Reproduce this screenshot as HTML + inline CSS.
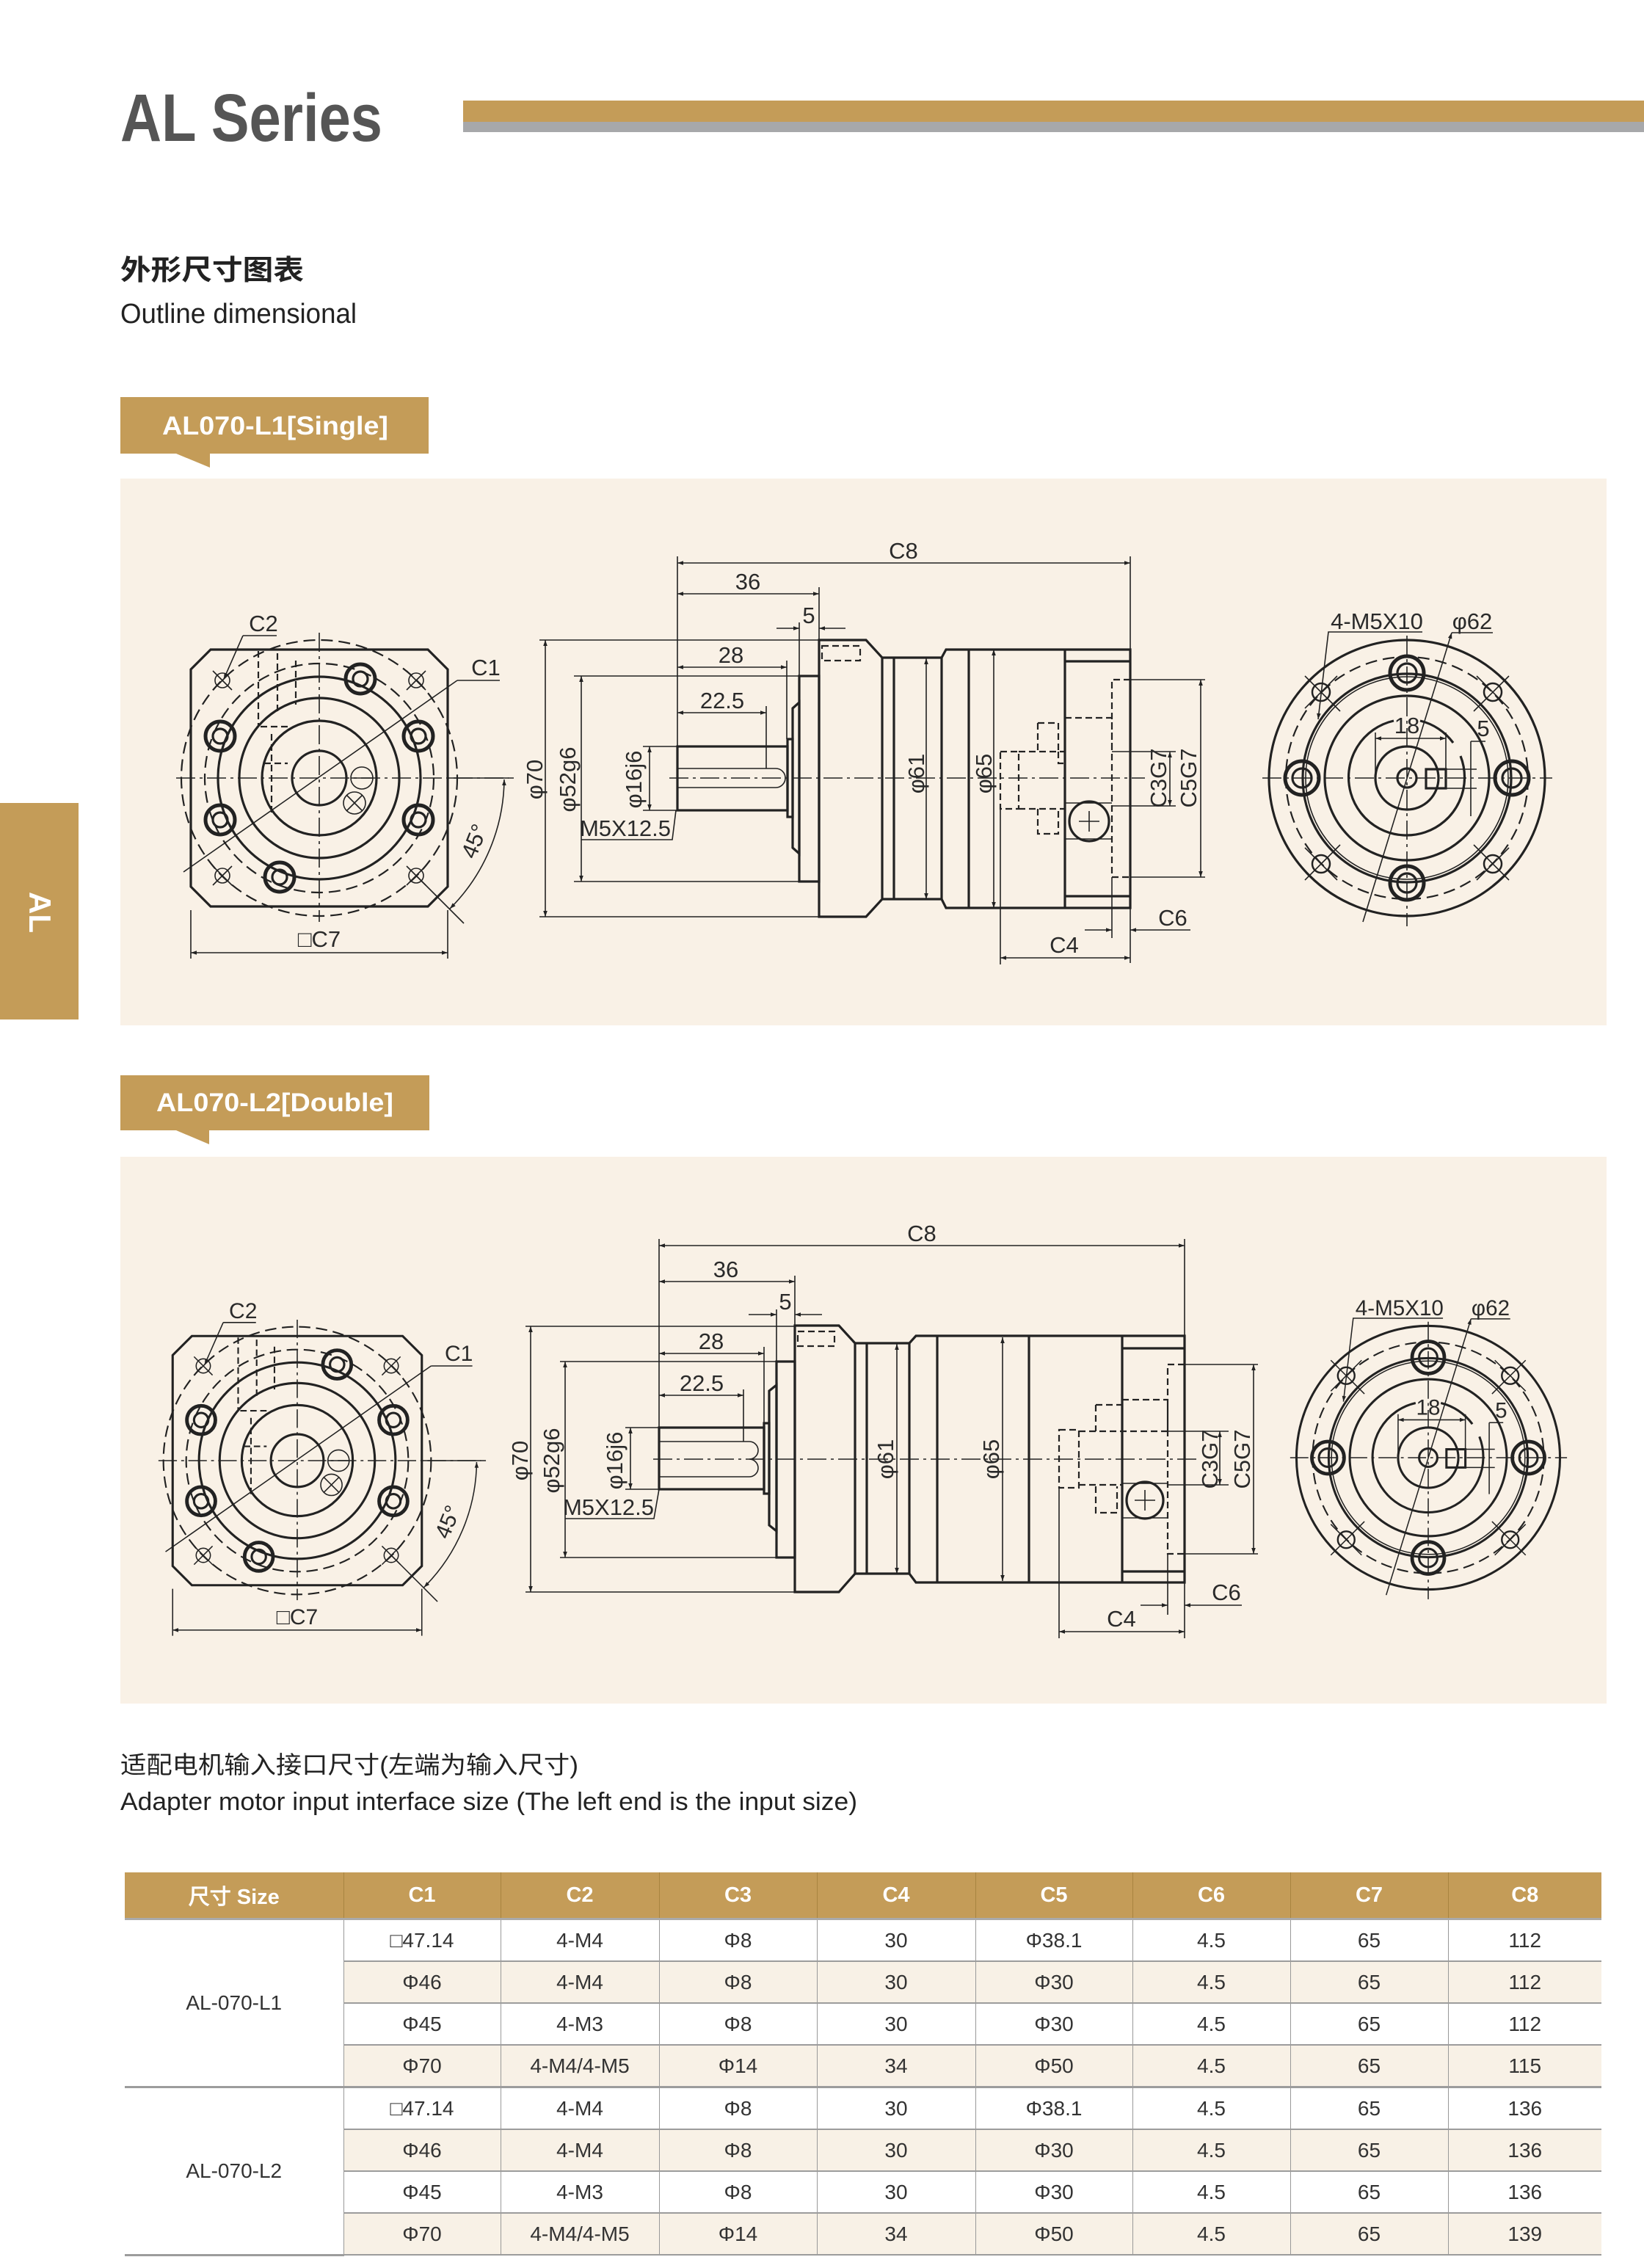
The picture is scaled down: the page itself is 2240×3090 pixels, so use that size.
<!DOCTYPE html>
<html><head><meta charset="utf-8">
<style>
html,body{margin:0;padding:0;background:#fff;}
body{width:2240px;height:3090px;position:relative;overflow:hidden;}
svg{position:absolute;left:0;top:0;}
.d{font-family:"Liberation Sans Narrow","Liberation Sans",sans-serif;font-size:31px;fill:#2a2a2a;text-anchor:middle;}
.o{fill:none;stroke:#222;stroke-width:3.2;}
.b{fill:none;stroke:#222;stroke-width:5;}
.t{fill:none;stroke:#222;stroke-width:1.6;}
.h{fill:none;stroke:#222;stroke-width:2.2;stroke-dasharray:9 5;}
.c{fill:none;stroke:#222;stroke-width:1.6;stroke-dasharray:26 6 4 6;}
.k{fill:none;stroke:#222;stroke-width:2.2;stroke-dasharray:16 8;}
table{position:absolute;left:170px;top:2551px;border-collapse:collapse;font-family:"Liberation Sans",sans-serif;font-size:28px;color:#333;table-layout:fixed;}
td,th{text-align:center;padding:0;}
th{background:#C49C58;color:#fff;font-weight:bold;font-size:29px;height:62px;border-left:1px solid #a88440;border-bottom:3px solid #aaa;}
td{height:55px;border-left:1px solid #999;border-bottom:2px solid #9c9c9c;}
tr.a td.v{background:#F8F1E6;}
td.g{border-left:none;background:#fff;border-bottom:3px solid #9c9c9c;}
</style></head>
<body>
<svg width="2240" height="3090" viewBox="0 0 2240 3090" xmlns="http://www.w3.org/2000/svg">
<defs>
<marker id="ar" viewBox="0 0 10 10" refX="10" refY="5" markerWidth="16" markerHeight="8" markerUnits="userSpaceOnUse" orient="auto-start-reverse"><path d="M0,1.5 L10,5 L0,8.5 z" fill="#222"/></marker>
</defs>

<text x="164" y="192" font-family="Liberation Sans,sans-serif" font-weight="bold" font-size="92" fill="#555" textLength="357" lengthAdjust="spacingAndGlyphs">AL Series</text>
<rect x="631" y="137" width="1609" height="29" fill="#C49C58"/>
<rect x="631" y="166" width="1609" height="14" fill="#A7A8AA"/>
<text x="164" y="381" font-family="Liberation Sans,'Noto Sans CJK SC',sans-serif" font-weight="bold" font-size="38" fill="#222" textLength="250" lengthAdjust="spacingAndGlyphs">外形尺寸图表</text>
<text x="164" y="440" font-family="Liberation Sans,sans-serif" font-size="38" fill="#222" textLength="322" lengthAdjust="spacingAndGlyphs">Outline dimensional</text>

<rect x="0" y="1094" width="107" height="295" fill="#C49C58"/>
<text transform="translate(40,1243) rotate(90)" font-family="Liberation Sans,sans-serif" font-weight="bold" font-size="42" fill="#fff" text-anchor="middle">AL</text>

<rect x="164" y="541" width="420" height="77" fill="#C49C58"/>
<path d="M240,618 L286,618 L286,637 Z" fill="#C49C58"/>
<text x="221" y="592" font-family="Liberation Sans,sans-serif" font-weight="bold" font-size="35" fill="#fff" textLength="308" lengthAdjust="spacingAndGlyphs">AL070-L1[Single]</text>
<rect x="164" y="652" width="2025" height="745" fill="#F9F1E6"/>

<rect x="164" y="1465" width="421" height="75" fill="#C49C58"/>
<path d="M240,1540 L285,1540 L285,1559 Z" fill="#C49C58"/>
<text x="213" y="1514" font-family="Liberation Sans,sans-serif" font-weight="bold" font-size="35" fill="#fff" textLength="323" lengthAdjust="spacingAndGlyphs">AL070-L2[Double]</text>
<rect x="164" y="1576" width="2025" height="745" fill="#F9F1E6"/>

<g id="lv">
<path class="o" d="M287,885 L583,885 L610,912 L610,1208 L583,1235 L287,1235 L260,1208 L260,912 Z"/>
<circle class="k" cx="435" cy="1060" r="188"/>
<circle class="k" cx="435" cy="1060" r="156"/>
<circle class="o" cx="435" cy="1060" r="138"/>
<circle class="o" cx="435" cy="1060" r="109"/>
<circle class="o" cx="435" cy="1060" r="78"/>
<circle class="o" cx="435" cy="1060" r="37"/>
<path class="h" d="M352,887 V990 M378,890 V970 M403,900 V960 M355,990 H395 M370,1000 V1110 M360,1040 H392"/>
<line class="c" x1="240" y1="1060" x2="693" y2="1060"/>
<line class="c" x1="435" y1="862" x2="435" y2="1256"/>
<line class="t" x1="250" y1="1188" x2="623" y2="927"/>
<g>
<circle class="b" cx="491" cy="925" r="20"/><circle class="o" cx="491" cy="925" r="10"/>
<circle class="b" cx="300" cy="1003" r="20"/><circle class="o" cx="300" cy="1003" r="10"/>
<circle class="b" cx="570" cy="1003" r="20"/><circle class="o" cx="570" cy="1003" r="10"/>
<circle class="b" cx="300" cy="1117" r="20"/><circle class="o" cx="300" cy="1117" r="10"/>
<circle class="b" cx="570" cy="1117" r="20"/><circle class="o" cx="570" cy="1117" r="10"/>
<circle class="b" cx="381" cy="1195" r="20"/><circle class="o" cx="381" cy="1195" r="10"/>
</g>
<g class="t">
<circle cx="303" cy="927" r="10"/><path d="M290,914 L316,940 M316,914 L290,940"/>
<circle cx="567" cy="927" r="10"/><path d="M554,914 L580,940 M580,914 L554,940"/>
<circle cx="303" cy="1193" r="10"/><path d="M290,1180 L316,1206 M316,1180 L290,1206"/>
<circle cx="567" cy="1193" r="10"/><path d="M554,1180 L580,1206 M580,1180 L554,1206"/>
<circle cx="493" cy="1060" r="15"/><line x1="478" y1="1060" x2="508" y2="1060"/>
<circle cx="483" cy="1094" r="15"/><path d="M472,1083 L494,1105 M494,1083 L472,1105"/>
</g>
<path class="t" d="M331,866 H377 M331,866 L305,925" marker-end="url(#ar)"/>
<text class="d" x="359" y="860">C2</text>
<path class="t" d="M623,927 H681"/>
<text class="d" x="662" y="920">C1</text>
<path class="t" d="M260,1240 V1306 M610,1240 V1306"/>
<line class="t" x1="260" y1="1298" x2="610" y2="1298" marker-start="url(#ar)" marker-end="url(#ar)"/>
<text class="d" x="435" y="1290">□C7</text>
<path class="t" d="M687,1062 A252,252 0 0 1 613,1238" marker-start="url(#ar)" marker-end="url(#ar)"/>
<line class="t" x1="567" y1="1193" x2="632" y2="1258"/>
<line class="t" x1="610" y1="1060" x2="700" y2="1060"/>
<text class="d" transform="translate(656,1150) rotate(-68)">45°</text>
</g>

<g id="ev">
<circle class="o" cx="1917" cy="1060" r="188"/>
<circle class="k" cx="1917" cy="1060" r="165"/>
<circle class="o" cx="1917" cy="1060" r="142"/>
<circle class="t" cx="1917" cy="1060" r="138"/>
<circle class="o" cx="1917" cy="1060" r="112"/>
<path class="o" d="M1899,982 A79,79 0 1 0 1990,1030 M1935,982 A79,79 0 0 1 1980,1012"/>
<circle class="o" cx="1917" cy="1060" r="43"/>
<circle class="o" cx="1917" cy="1060" r="13"/>
<line class="c" x1="1720" y1="1060" x2="2115" y2="1060"/>
<line class="c" x1="1917" y1="866" x2="1917" y2="1262"/>
<rect class="o" x="1943" y="1048" width="27" height="26"/>
<g>
<circle class="b" cx="1917" cy="917" r="23"/><circle class="o" cx="1917" cy="917" r="13"/>
<circle class="b" cx="1917" cy="1203" r="23"/><circle class="o" cx="1917" cy="1203" r="13"/>
<circle class="b" cx="1774" cy="1060" r="23"/><circle class="o" cx="1774" cy="1060" r="13"/>
<circle class="b" cx="2060" cy="1060" r="23"/><circle class="o" cx="2060" cy="1060" r="13"/>
</g>
<g class="t">
<circle cx="1800" cy="943" r="12" stroke-width="2.5"/><path d="M1778,921 L1826,969 M1822,921 L1778,965"/>
<circle cx="2034" cy="943" r="12" stroke-width="2.5"/><path d="M2012,921 L2056,965 M2056,921 L2008,969"/>
<circle cx="1800" cy="1177" r="12" stroke-width="2.5"/><path d="M1778,1155 L1822,1199 M1826,1151 L1778,1199"/>
<circle cx="2034" cy="1177" r="12" stroke-width="2.5"/><path d="M2008,1151 L2056,1199 M2056,1155 L2012,1199"/>
</g>
<line class="t" x1="1978" y1="862" x2="1857" y2="1256" marker-start="url(#ar)"/>
<path class="t" d="M1978,862 H2034"/>
<text class="d" x="2006" y="857">φ62</text>
<path class="t" d="M1938,861 H1810 L1796,980" marker-end="url(#ar)"/>
<text class="d" x="1876" y="857">4-M5X10</text>
<path class="t" d="M1874,998 V1062 M1970,998 V1048"/>
<line class="t" x1="1874" y1="1006" x2="1970" y2="1006" marker-start="url(#ar)" marker-end="url(#ar)"/>
<text class="d" x="1917" y="999">18</text>
<path class="t" d="M1970,1048 H2012 M1970,1074 H2012 M2004,1010 V1112 M2004,1010 H2024"/>
<text class="d" x="2021" y="1003">5</text>
</g>

<g>
<rect class="o" x="923" y="1017" width="150" height="87"/>
<path class="t" d="M923,1047 H1057 A13,13 0 0 1 1057,1073 H923"/>
<rect class="o" x="1073" y="1007" width="7" height="106"/>
<path class="o" d="M1080,965 L1089,957 V1163 L1080,1155 Z"/>
<rect class="o" x="1089" y="921" width="27" height="280"/>
<path class="o" d="M1116,872 H1180 L1202,896 V1225 L1180,1249 H1116 Z"/>
<rect class="h" x="1120" y="880" width="52" height="20"/>
<path class="o" d="M1202,896 H1283 L1289,885 H1540 V1237 H1289 L1283,1225 H1202"/>
<path class="o" d="M1218,896 V1225 M1283,896 V1225 M1320,885 V1237 M1451,885 V1237 M1451,901 H1540 M1451,1221 H1540"/>
<path class="h" d="M1540,926 H1515 V1195 H1540 M1451,978 H1515 V1024 M1414,985 H1442 V1024 M1414,985 V1024 M1363,1024 H1388 V1102 H1363 Z M1388,1024 H1451 M1388,1102 H1451 M1414,1102 V1136 H1442 V1102 M1442,1024 V1040 H1451"/>
<circle class="o" cx="1484" cy="1119" r="27"/>
<path class="t" d="M1470,1119 H1498 M1484,1105 V1133 M1451,1094 H1515 M1451,1143 H1515"/>
<line class="c" x1="912" y1="1060" x2="1560" y2="1060"/>
<path class="t" d="M923,758 V1017 M1540,758 V885 M1116,800 V872 M1089,848 V921 M1072,900 V1007 M1044,962 V1047"/>
<line class="t" x1="923" y1="767" x2="1540" y2="767" marker-start="url(#ar)" marker-end="url(#ar)"/>
<text class="d" x="1231" y="761">C8</text>
<line class="t" x1="923" y1="809" x2="1116" y2="809" marker-start="url(#ar)" marker-end="url(#ar)"/>
<text class="d" x="1019" y="803">36</text>
<line class="t" x1="1058" y1="856" x2="1089" y2="856" marker-end="url(#ar)"/>
<line class="t" x1="1152" y1="856" x2="1116" y2="856" marker-end="url(#ar)"/>
<text class="d" x="1102" y="849">5</text>
<line class="t" x1="923" y1="909" x2="1072" y2="909" marker-start="url(#ar)" marker-end="url(#ar)"/>
<text class="d" x="996" y="903">28</text>
<line class="t" x1="923" y1="971" x2="1044" y2="971" marker-start="url(#ar)" marker-end="url(#ar)"/>
<text class="d" x="984" y="965">22.5</text>
<path class="t" d="M735,872 H1116 M735,1249 H1116 M782,921 H1089 M782,1201 H1089 M876,1017 H923 M876,1104 H923"/>
<line class="t" x1="743" y1="872" x2="743" y2="1249" marker-start="url(#ar)" marker-end="url(#ar)"/>
<line class="t" x1="792" y1="921" x2="792" y2="1201" marker-start="url(#ar)" marker-end="url(#ar)"/>
<line class="t" x1="885" y1="1017" x2="885" y2="1104" marker-start="url(#ar)" marker-end="url(#ar)"/>
<text class="d" transform="translate(739,1062) rotate(-90)">φ70</text>
<text class="d" transform="translate(784,1062) rotate(-90)">φ52g6</text>
<text class="d" transform="translate(874,1062) rotate(-90)">φ16j6</text>
<path class="t" d="M792,1144 H916 L921,1104"/>
<text class="d" x="852" y="1139">M5X12.5</text>
<line class="t" x1="1262" y1="897" x2="1262" y2="1225" marker-start="url(#ar)" marker-end="url(#ar)"/>
<text class="d" transform="translate(1259,1054) rotate(-90)">φ61</text>
<line class="t" x1="1354" y1="885" x2="1354" y2="1237" marker-start="url(#ar)" marker-end="url(#ar)"/>
<text class="d" transform="translate(1351,1054) rotate(-90)">φ65</text>
<path class="t" d="M1515,1024 H1602 M1515,1098 H1602 M1540,926 H1642 M1540,1195 H1642"/>
<line class="t" x1="1594" y1="1024" x2="1594" y2="1098" marker-start="url(#ar)" marker-end="url(#ar)"/>
<line class="t" x1="1636" y1="926" x2="1636" y2="1195" marker-start="url(#ar)" marker-end="url(#ar)"/>
<text class="d" transform="translate(1589,1060) rotate(-90)">C3G7</text>
<text class="d" transform="translate(1630,1060) rotate(-90)">C5G7</text>
<path class="t" d="M1515,1195 V1278 M1540,1237 V1312 M1363,1102 V1314"/>
<line class="t" x1="1478" y1="1267" x2="1515" y2="1267" marker-end="url(#ar)"/>
<line class="t" x1="1622" y1="1267" x2="1540" y2="1267" marker-end="url(#ar)"/>
<text class="d" x="1598" y="1261">C6</text>
<line class="t" x1="1363" y1="1305" x2="1540" y2="1305" marker-start="url(#ar)" marker-end="url(#ar)"/>
<text class="d" x="1450" y="1298">C4</text>
</g>

<use href="#lv" transform="translate(405,1990) scale(0.97) translate(-435,-1060)"/>
<use href="#ev" transform="translate(1946,1986) scale(0.955) translate(-1917,-1060)"/>

<g>
<rect class="o" x="898" y="1945" width="143" height="84"/>
<path class="t" d="M898,1964 H1021 A12,12 0 0 1 1021,1988 A12,12 0 0 1 1021,2012 H898"/>
<rect class="o" x="1041" y="1939" width="7" height="96"/>
<path class="o" d="M1048,1895 L1058,1887 V2086 L1048,2078 Z"/>
<rect class="o" x="1058" y="1855" width="25" height="267"/>
<path class="o" d="M1083,1806 H1143 L1165,1830 V2144 L1143,2169 H1083 Z"/>
<rect class="h" x="1087" y="1814" width="50" height="20"/>
<path class="o" d="M1165,1830 H1239 L1248,1820 H1614 V2156 H1248 L1239,2144 H1165"/>
<path class="o" d="M1181,1830 V2144 M1239,1830 V2144 M1277,1820 V2156 M1402,1820 V2156 M1529,1820 V2156 M1529,1837 H1614 M1529,2141 H1614"/>
<path class="h" d="M1614,1859 H1591 V2117 H1614 M1529,1907 H1591 V1950 M1493,1914 H1529 V1950 M1493,1914 V1950 M1443,1948 H1470 V2027 H1443 Z M1470,1950 H1591 M1470,2023 H1529 M1493,2025 V2061 H1522 V2025"/>
<circle class="o" cx="1560" cy="2044" r="25"/>
<path class="t" d="M1546,2044 H1574 M1560,2030 V2058 M1529,2021 H1591 M1529,2068 H1591"/>
<line class="c" x1="890" y1="1988" x2="1630" y2="1988"/>
<path class="t" d="M898,1688 V1945 M1614,1688 V1820 M1083,1738 V1806 M1058,1784 V1855 M1041,1835 V1939 M1013,1893 V1964"/>
<line class="t" x1="898" y1="1697" x2="1614" y2="1697" marker-start="url(#ar)" marker-end="url(#ar)"/>
<text class="d" x="1256" y="1691">C8</text>
<line class="t" x1="898" y1="1746" x2="1083" y2="1746" marker-start="url(#ar)" marker-end="url(#ar)"/>
<text class="d" x="989" y="1740">36</text>
<line class="t" x1="1020" y1="1791" x2="1058" y2="1791" marker-end="url(#ar)"/>
<line class="t" x1="1120" y1="1791" x2="1083" y2="1791" marker-end="url(#ar)"/>
<text class="d" x="1070" y="1784">5</text>
<line class="t" x1="898" y1="1844" x2="1041" y2="1844" marker-start="url(#ar)" marker-end="url(#ar)"/>
<text class="d" x="969" y="1838">28</text>
<line class="t" x1="898" y1="1901" x2="1013" y2="1901" marker-start="url(#ar)" marker-end="url(#ar)"/>
<text class="d" x="956" y="1895">22.5</text>
<path class="t" d="M716,1807 H1083 M716,2169 H1083 M763,1855 H1058 M763,2122 H1058 M852,1945 H898 M852,2029 H898"/>
<line class="t" x1="723" y1="1807" x2="723" y2="2169" marker-start="url(#ar)" marker-end="url(#ar)"/>
<line class="t" x1="770" y1="1855" x2="770" y2="2122" marker-start="url(#ar)" marker-end="url(#ar)"/>
<line class="t" x1="859" y1="1945" x2="859" y2="2029" marker-start="url(#ar)" marker-end="url(#ar)"/>
<text class="d" transform="translate(719,1990) rotate(-90)">φ70</text>
<text class="d" transform="translate(762,1990) rotate(-90)">φ52g6</text>
<text class="d" transform="translate(848,1990) rotate(-90)">φ16j6</text>
<path class="t" d="M770,2069 H891 L898,2029"/>
<text class="d" x="829" y="2064">M5X12.5</text>
<line class="t" x1="1222" y1="1831" x2="1222" y2="2144" marker-start="url(#ar)" marker-end="url(#ar)"/>
<text class="d" transform="translate(1217,1988) rotate(-90)">φ61</text>
<line class="t" x1="1366" y1="1822" x2="1366" y2="2154" marker-start="url(#ar)" marker-end="url(#ar)"/>
<text class="d" transform="translate(1361,1988) rotate(-90)">φ65</text>
<path class="t" d="M1591,1950 H1674 M1591,2023 H1674 M1614,1859 H1714 M1614,2117 H1714"/>
<line class="t" x1="1662" y1="1950" x2="1662" y2="2023" marker-start="url(#ar)" marker-end="url(#ar)"/>
<line class="t" x1="1708" y1="1859" x2="1708" y2="2117" marker-start="url(#ar)" marker-end="url(#ar)"/>
<text class="d" transform="translate(1659,1988) rotate(-90)">C3G7</text>
<text class="d" transform="translate(1703,1988) rotate(-90)">C5G7</text>
<path class="t" d="M1591,2117 V2200 M1614,2156 V2232 M1443,2027 V2232"/>
<line class="t" x1="1554" y1="2187" x2="1591" y2="2187" marker-end="url(#ar)"/>
<line class="t" x1="1692" y1="2187" x2="1614" y2="2187" marker-end="url(#ar)"/>
<text class="d" x="1671" y="2180">C6</text>
<line class="t" x1="1443" y1="2223" x2="1614" y2="2223" marker-start="url(#ar)" marker-end="url(#ar)"/>
<text class="d" x="1528" y="2216">C4</text>
</g>

<text x="164" y="2416" font-family="Liberation Sans,'Noto Sans CJK SC',sans-serif" font-size="33" fill="#222" textLength="624" lengthAdjust="spacingAndGlyphs">适配电机输入接口尺寸(左端为输入尺寸)</text>
<text x="164" y="2466" font-family="Liberation Sans,sans-serif" font-size="34" fill="#222" textLength="1004" lengthAdjust="spacingAndGlyphs">Adapter motor input interface size (The left end is the input size)</text>
</svg>

<table>
<colgroup><col style="width:298px"><col style="width:214px"><col style="width:216px"><col style="width:215px"><col style="width:216px"><col style="width:214px"><col style="width:215px"><col style="width:215px"><col style="width:209px"></colgroup>
<tr><th style="border-left:none">尺寸 Size</th><th>C1</th><th>C2</th><th>C3</th><th>C4</th><th>C5</th><th>C6</th><th>C7</th><th>C8</th></tr>
<tr><td class="g" rowspan="4">AL-070-L1</td><td class="v">□47.14</td><td class="v">4-M4</td><td class="v">Φ8</td><td class="v">30</td><td class="v">Φ38.1</td><td class="v">4.5</td><td class="v">65</td><td class="v">112</td></tr>
<tr class="a"><td class="v">Φ46</td><td class="v">4-M4</td><td class="v">Φ8</td><td class="v">30</td><td class="v">Φ30</td><td class="v">4.5</td><td class="v">65</td><td class="v">112</td></tr>
<tr><td class="v">Φ45</td><td class="v">4-M3</td><td class="v">Φ8</td><td class="v">30</td><td class="v">Φ30</td><td class="v">4.5</td><td class="v">65</td><td class="v">112</td></tr>
<tr class="a"><td class="v" style="border-bottom:3px solid #9c9c9c">Φ70</td><td class="v" style="border-bottom:3px solid #9c9c9c">4-M4/4-M5</td><td class="v" style="border-bottom:3px solid #9c9c9c">Φ14</td><td class="v" style="border-bottom:3px solid #9c9c9c">34</td><td class="v" style="border-bottom:3px solid #9c9c9c">Φ50</td><td class="v" style="border-bottom:3px solid #9c9c9c">4.5</td><td class="v" style="border-bottom:3px solid #9c9c9c">65</td><td class="v" style="border-bottom:3px solid #9c9c9c">115</td></tr>
<tr><td class="g" rowspan="4">AL-070-L2</td><td class="v">□47.14</td><td class="v">4-M4</td><td class="v">Φ8</td><td class="v">30</td><td class="v">Φ38.1</td><td class="v">4.5</td><td class="v">65</td><td class="v">136</td></tr>
<tr class="a"><td class="v">Φ46</td><td class="v">4-M4</td><td class="v">Φ8</td><td class="v">30</td><td class="v">Φ30</td><td class="v">4.5</td><td class="v">65</td><td class="v">136</td></tr>
<tr><td class="v">Φ45</td><td class="v">4-M3</td><td class="v">Φ8</td><td class="v">30</td><td class="v">Φ30</td><td class="v">4.5</td><td class="v">65</td><td class="v">136</td></tr>
<tr class="a"><td class="v">Φ70</td><td class="v">4-M4/4-M5</td><td class="v">Φ14</td><td class="v">34</td><td class="v">Φ50</td><td class="v">4.5</td><td class="v">65</td><td class="v">139</td></tr>
</table>
</body></html>
